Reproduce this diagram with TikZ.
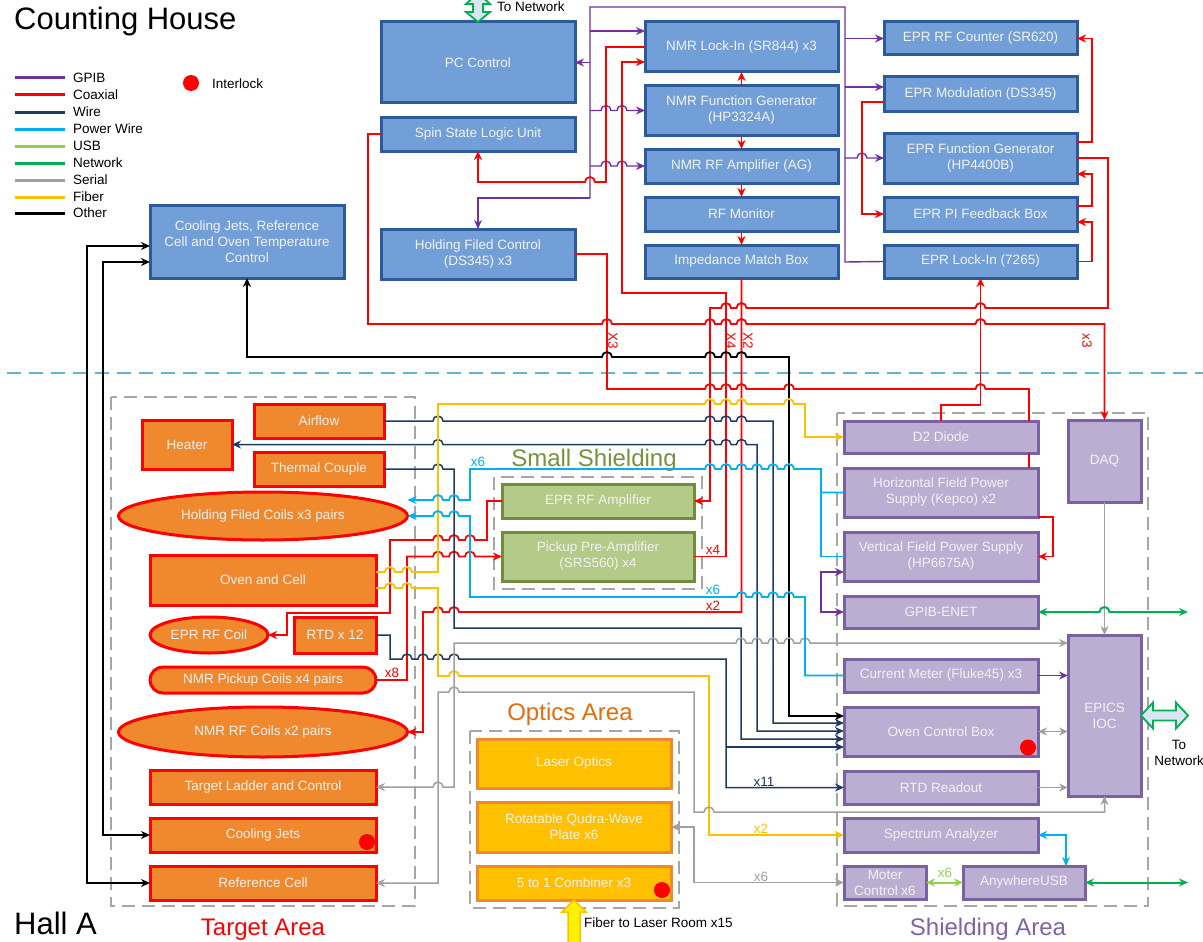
\documentclass[tikz,border=0pt]{standalone}
\usepackage{fontspec}
\setmainfont{Liberation Sans}
\usetikzlibrary{positioning,shapes.geometric,arrows.meta}

\definecolor{gpibc}{RGB}{112,48,160}
\definecolor{coaxc}{RGB}{255,0,0}
\definecolor{wirec}{RGB}{31,56,100}
\definecolor{powerc}{RGB}{0,176,240}
\definecolor{usbc}{RGB}{146,208,80}
\definecolor{netc}{RGB}{0,176,80}
\definecolor{serialc}{RGB}{160,160,160}
\definecolor{fiberc}{RGB}{255,192,0}
\definecolor{bluefill}{RGB}{114,159,216}
\definecolor{blueline}{RGB}{44,90,155}
\definecolor{orangefill}{RGB}{240,136,46}
\definecolor{greenfill}{RGB}{180,202,136}
\definecolor{greenline}{RGB}{112,140,60}
\definecolor{purplefill}{RGB}{188,174,210}
\definecolor{purpleline}{RGB}{122,98,162}
\definecolor{sepline}{RGB}{96,182,212}
\definecolor{areagray}{RGB}{166,166,166}
\definecolor{opticsc}{RGB}{228,108,10}
\definecolor{shieldc}{RGB}{128,100,162}
\definecolor{smallc}{RGB}{118,146,60}
\definecolor{boxtext}{RGB}{242,242,242}
\definecolor{netfill}{RGB}{220,230,242}

% line jumps over crossing verticals, going right / going left
\newcommand{\hopr}[2]{\foreach \hx in {#2} {-- (\hx-5,#1) arc[start angle=180, end angle=360, radius=5]}}
\newcommand{\hopl}[2]{\foreach \hx in {#2} {-- (\hx+5,#1) arc[start angle=0, end angle=-180, radius=5]}}

\begin{document}
\begin{tikzpicture}[x=1pt, y=-1pt, >={Stealth[length=9pt,width=8pt]},
  every node/.style={font=\fontsize{13.5}{16}\selectfont, inner sep=1pt},
  box/.style={draw, line width=3pt, outer sep=0pt, text=boxtext, align=center},
  cbox/.style={box, fill=bluefill, draw=blueline},
  tbox/.style={box, fill=orangefill, draw=coaxc},
  tell/.style={tbox, ellipse},
  sbox/.style={box, fill=greenfill, draw=greenline},
  obox/.style={box, fill=fiberc, draw=orangefill},
  pbox/.style={box, fill=purplefill, draw=purpleline},
  dot/.style={circle, fill=red, minimum size=16pt, inner sep=0pt},
  area/.style={draw=areagray, line width=2pt, dash pattern=on 13pt off 7pt},
  title/.style={font=\fontsize{24}{28}\selectfont, anchor=base},
  gpib/.style={draw=gpibc, line width=1.4pt},
  coax/.style={draw=coaxc, line width=1.8pt},
  wire/.style={draw=wirec, line width=1.5pt},
  power/.style={draw=powerc, line width=1.8pt},
  usb/.style={draw=usbc, line width=2pt},
  net/.style={draw=netc, line width=2pt},
  serial/.style={draw=serialc, line width=1.5pt},
  fiber/.style={draw=fiberc, line width=1.8pt},
  other/.style={draw=black, line width=1.8pt},
  netarrow/.style={draw=netc, fill=netfill, line width=1.8pt}]
\useasboundingbox (0,0) rectangle (1203,942);

% areas
\draw[sepline, line width=2pt, dash pattern=on 14pt off 8pt] (7,373) -- (1203,373);
\draw[area] (111,397) rectangle (415,906);
\draw[area] (494,477) rectangle (702,589);
\draw[area] (470,731) rectangle (679,908);
\draw[area] (837,413) rectangle (1148,906);

\node[font=\fontsize{31}{35}\selectfont, anchor=base west] (house) at (13,30) {Counting House};
\node[font=\fontsize{31}{35}\selectfont, anchor=base west] (hall) at (13,934) {Hall A};
\node[title, text=coaxc] (targett) at (263,935) {Target Area};
\node[title, text=opticsc] (opticst) at (570,720) {Optics Area};
\node[title, text=smallc] (smallt) at (594,466) {Small Shielding};
\node[title, text=shieldc] (shieldt) at (988,935) {Shielding Area};

% legend
\foreach \y/\col/\txt in {78/gpibc/GPIB, 95/coaxc/Coaxial, 112/wirec/Wire,
    129/powerc/Power Wire, 146/usbc/USB, 163/netc/Network, 180/serialc/Serial,
    197/fiberc/Fiber, 213/black/Other} {
  \draw[\col, line width=3pt] (15,\y) -- (65,\y);
  \node[anchor=west] (leg\y) at (72,\y) {\txt};
}
\node[dot] (ildot) at (191,83) {};
\node[anchor=west] (iltext) at (211,84) {Interlock};

% counting house
\node[cbox, minimum width=194, minimum height=81] (pc) at (478,62.5) {PC Control};
\node[cbox, minimum width=194, minimum height=34, below=14pt of pc] (ssl) {Spin State Logic Unit};
\node[cbox, minimum width=194, minimum height=50, below=78pt of ssl] (hfc) {Holding Filed Control\\(DS345) x3};
\node[cbox, minimum width=194, minimum height=73] (cjc) at (247,241.5) {Cooling Jets, Reference\\Cell and Oven Temperature\\Control};
\node[cbox, minimum width=193, minimum height=50] (nli) at (741.5,47) {NMR Lock-In (SR844) x3};
\node[cbox, minimum width=193, minimum height=49, below=14pt of nli] (nfg) {NMR Function Generator\\(HP3324A)};
\node[cbox, minimum width=193, minimum height=34, below=14pt of nfg] (nra) {NMR RF Amplifier (AG)};
\node[cbox, minimum width=193, minimum height=34, below=14pt of nra] (rfm) {RF Monitor};
\node[cbox, minimum width=193, minimum height=33, below=14pt of rfm] (imb) {Impedance Match Box};
\node[cbox, minimum width=193, minimum height=33] (erc) at (980.5,38.5) {EPR RF Counter (SR620)};
\node[cbox, minimum width=193, minimum height=34, below=22pt of erc] (emo) {EPR Modulation (DS345)};
\node[cbox, minimum width=193, minimum height=50, below=22pt of emo] (efg) {EPR Function Generator\\(HP4400B)};
\node[cbox, minimum width=193, minimum height=34, below=14pt of efg] (epi) {EPR PI Feedback Box};
\node[cbox, minimum width=193, minimum height=33, below=14pt of epi] (eli) {EPR Lock-In (7265)};

% target area
\node[tbox, minimum width=130, minimum height=34] (airflow) at (319,421) {Airflow};
\node[tbox, minimum width=90, minimum height=49] (heater) at (187,444.5) {Heater};
\node[tbox, minimum width=130, minimum height=34] (thermal) at (319,469) {Thermal Couple};
\node[tell, minimum width=289, minimum height=48] (hcoils) at (263,516) {Holding Filed Coils x3 pairs};
\node[tbox, minimum width=226, minimum height=50] (oven) at (263,580) {Oven and Cell};
\node[tell, minimum width=118, minimum height=36] (eprcoil) at (209,635) {EPR RF Coil};
\node[tbox, minimum width=82, minimum height=36] (rtd) at (335,635) {RTD x 12};
\node[tbox, rounded corners=13pt, minimum width=226, minimum height=26] (pcoils) at (263,680) {NMR Pickup Coils x4 pairs};
\node[tell, minimum width=289, minimum height=50] (rfcoils) at (263,732) {NMR RF Coils x2 pairs};
\node[tbox, minimum width=226, minimum height=34] (ladder) at (263,787) {Target Ladder and Control};
\node[tbox, minimum width=226, minimum height=34, below=14pt of ladder] (cjets) {Cooling Jets};
\node[tbox, minimum width=226, minimum height=34, below=14pt of cjets] (refcell) {Reference Cell};
\node[dot] (dotcj) at (367,842) {};

% small shielding
\node[sbox, minimum width=192, minimum height=34] (eamp) at (598,501) {EPR RF Amplifier};
\node[sbox, minimum width=192, minimum height=49, below=14pt of eamp] (preamp) {Pickup Pre-Amplifier\\(SRS560) x4};

% optics area
\node[obox, minimum width=194, minimum height=49] (laser) at (574,763.5) {Laser Optics};
\node[obox, minimum width=194, minimum height=50, below=14pt of laser] (qwp) {Rotatable Qudra-Wave\\Plate x6};
\node[obox, minimum width=194, minimum height=34, below=14pt of qwp] (comb) {5 to 1 Combiner x3};
\node[dot] (dotcb) at (662,890) {};

% shielding area
\node[pbox, minimum width=194, minimum height=32] (d2) at (941,437) {D2 Diode};
\node[pbox, minimum width=194, minimum height=49, below=15pt of d2] (hfps) {Horizontal Field Power\\Supply (Kepco) x2};
\node[pbox, minimum width=194, minimum height=49, below=15pt of hfps] (vfps) {Vertical Field Power Supply\\(HP6675A)};
\node[pbox, minimum width=194, minimum height=32, below=15pt of vfps] (genet) {GPIB-ENET};
\node[pbox, minimum width=194, minimum height=33, below=31pt of genet] (cmeter) {Current Meter (Fluke45) x3};
\node[pbox, minimum width=194, minimum height=49, below=15pt of cmeter] (ovenbox) {Oven Control Box};
\node[pbox, minimum width=194, minimum height=33, below=15pt of ovenbox] (rtdro) {RTD Readout};
\node[pbox, minimum width=194, minimum height=34, below=14pt of rtdro] (spec) {Spectrum Analyzer};
\node[pbox, minimum width=82, minimum height=33] (moter) at (885,882.5) {Moter\\Control x6};
\node[pbox, minimum width=122, minimum height=33, right=37pt of moter] (ausb) {AnywhereUSB};
\node[pbox, minimum width=73, minimum height=82] (daq) at (1104.5,461) {DAQ};
\node[pbox, minimum width=73, minimum height=161] (epics) at (1104.5,715.5) {EPICS\\IOC};
\node[dot] (dotob) at (1028,747.5) {};

% GPIB
\draw[gpib] (590,198) -- (590,7) -- (845,7) -- (845,262) -- (eli.west);
\draw[gpib,->] (590,62.5) -- (pc.east);
\draw[gpib,->] (590,31) -- (nli.west |- 0,31);
\draw[gpib,->] (590,110.5) \hopr{110.5}{606,622} -- (nfg.west);
\draw[gpib,->] (590,166) \hopr{166}{606,622} -- (nra.west);
\draw[gpib,->] (590,198) -- (478,198) -- (hfc.north);
\draw[gpib,->] (845,38.5) -- (erc.west);
\draw[gpib,->] (845,87) -- (emo.west |- 0,87);
\draw[gpib,->] (845,158) \hopr{158}{862} -- (efg.west);
\draw[gpib,<->] (vfps.west |- 0,572) -- (821,572) -- (821,612) -- (genet.west);
\draw[gpib,->] (cmeter.east) -- (epics.west |- cmeter.east);

% coaxial
\draw[coax,->] (nfg.north) -- (nli.south);
\draw[coax,->] (nfg.south) -- (nra.north);
\draw[coax,->] (nra.south) -- (rfm.north);
\draw[coax,->] (rfm.south) -- (imb.north);
\draw[coax,->] (nli.west) -- (606,47) -- (606,182) \hopl{182}{590} -- (478,182) -- (ssl.south);
\draw[coax,->] (preamp.east) -- (726,556.5) -- (726,293) -- (622,293) -- (622,62) -- (nli.west |- 0,62);
\draw[coax,->] (ssl.west) -- (368,134) -- (368,324) \hopr{324}{607,710,726,741.5,980.5} -- (1104.5,324) -- (daq.north);
\draw[coax] (hfc.east) -- (607,254) -- (607,389) \hopr{389}{710,726,741.5,789,980.5} -- (1029,389) -- (d2.north -| 1029,0);
\draw[coax] (d2.south -| 1029,0) -- (hfps.north -| 1029,0);
\draw[coax,->] (hfps.south east) -- (1053,517) -- (1053,556.5) -- (vfps.east);
\draw[coax,->] (d2.north) -- (941,405) -- (980.5,405) -- (eli.south);
\draw[coax,->] (emo.west |- 0,102) -- (862,102) -- (862,214) -- (epi.west);
\draw[coax,->] (efg.east |- 0,142) -- (1092,142) -- (1092,38.5) -- (erc.east);
\draw[coax,->] (epi.east |- 0,206) -- (1092,206) -- (1092,174) -- (efg.east |- 0,174);
\draw[coax,->] (eli.east) -- (1092,261.5) -- (1092,222) -- (epi.east |- 0,222);
\draw[coax,->] (efg.east) -- (1108,158) -- (1108,308) \hopl{308}{980.5,741.5,726} -- (710,308) -- (710,501) -- (eamp.east);
\draw[coax,->] (eamp.west) -- (487,501) -- (487,540) \hopl{540}{470,454,438} -- (390,540) -- (390,613) -- (287,613) -- (287,635) -- (eprcoil.east);
\draw[coax,->] (pcoils.east) -- (407,680) -- (407,556.5) \hopr{556.5}{438,454,470} -- (preamp.west);
\draw[coax,->] (imb.south) -- (741.5,612) \hopl{612}{454,438} -- (423,612) -- (423,732) -- (rfcoils.east);

% other
\draw[other,<->] (ovenbox.west |- 0,716) -- (789,716) -- (789,357) \hopl{357}{741.5,726,710,607} -- (247,357) -- (cjc.south);
\draw[other,<->] (cjc.west |- 0,246) -- (87,246) -- (87,883) -- (refcell.west);
\draw[other,<->] (cjc.west |- 0,262) -- (103,262) -- (103,835) -- (cjets.west);

% wire
\draw[wire,->] (airflow.east) \hopr{421}{438,710,726,741.5} -- (773,421) -- (773,723) -- (ovenbox.west |- 0,723);
\draw[wire,<->] (heater.east) \hopr{444.5}{438,710,726,741.5} -- (757,444.5) -- (757,731) -- (ovenbox.west |- 0,731);
\draw[wire,->] (thermal.east) \hopr{469}{438} -- (454,469) -- (454,628) -- (741,628) -- (741,739) -- (ovenbox.west |- 0,739);
\draw[wire,->] (rtd.east) -- (390,635) -- (390,659) \hopr{659}{407,423,438,454} -- (726,659) -- (726,787.5) -- (rtdro.west);
\draw[wire,->] (726,747) -- (ovenbox.west |- 0,747);

% fiber
\draw[fiber,->] (oven.east |- 0,572) \hopr{572}{390,407} -- (438,572) -- (438,404) \hopr{404}{710,726,741.5,789} -- (805,404) -- (805,437) -- (d2.west);
\draw[fiber,->] (oven.east |- 0,588) \hopr{588}{390,407} -- (438,588) -- (438,676) \hopr{676}{454} -- (709,676) -- (709,835) -- (spec.west);

% serial
\draw[serial,->] (daq.south) -- (epics.north);
\draw[serial,<->] (ovenbox.east) -- (epics.west |- ovenbox.east);
\draw[serial,->] (rtdro.east) -- (epics.west |- rtdro.east);
\draw[serial,<->] (ladder.east) \hopr{787}{438} -- (454,787) -- (454,643) \hopr{643}{741,757,773,789,805} -- (epics.west |- 0,643);
\draw[serial,<->] (refcell.east) -- (438,883) -- (438,692) \hopr{692}{454} -- (694,692) -- (694,812) \hopr{812}{709} -- (1104.5,812) -- (epics.south);
\draw[serial,<->] (qwp.east) -- (694,827) -- (694,882.5) -- (moter.west);

% power wire
\draw[power,->] (hfps.west) -- (821,492.5) -- (821,469) \hopl{469}{789,773,757,741.5,726,710} -- (470,469) -- (470,500) \hopl{500}{454,438} -- (hcoils.east |- 0,500);
\draw[power] (vfps.west) -- (821,556.5) -- (821,492.5);
\draw[power,->] (cmeter.west) -- (805,675.5) -- (805,597) \hopl{597}{789,773,757,741.5} -- (470,597) -- (470,516) \hopl{516}{454,438} -- (hcoils.east);
\draw[power,<->] (spec.east) -- (1066,835) -- (ausb.north -| 1066,0);

% usb and network
\coordinate (neta) at (1188,612);
\coordinate (netb) at (1188,882.5);
\draw[usb,<->] (moter.east) -- (ausb.west);
\draw[net,<->] (genet.east) \hopr{612}{1104.5} -- (neta);
\draw[net,<->] (ausb.east) -- (netb);
\draw[netarrow] (epics.east) -- ++(12,-13) -- ++(0,8) -- ++(23,0) -- ++(0,-8) -- ++(12,13)
  -- ++(-12,13) -- ++(0,-8) -- ++(-23,0) -- ++(0,8) -- cycle;
\draw[netarrow] (pc.north) -- ++(-12,-10) -- ++(7,0) -- ++(0,-8) -- ++(-7,0) -- ++(12,-11)
  -- ++(12,11) -- ++(-7,0) -- ++(0,8) -- ++(7,0) -- cycle;
\draw[draw=fiberc, fill=yellow, line width=1.5pt] (comb.south) -- ++(12,12) -- ++(-6,0) -- ++(0,32)
  -- ++(-12,0) -- ++(0,-32) -- ++(-6,0) -- cycle;

% labels
\node[anchor=base west] (pcnet) at (496,12) {To Network};
\node[align=center] (epnet) at (1179,753) {To\\Network};
\node[anchor=west] (fibert) at (583,923) {Fiber to Laser Room x15};
\node[text=powerc] (lx6a) at (478,462) {x6};
\node[text=powerc] (lx6b) at (713,590) {x6};
\node[text=coaxc] (lx2a) at (713,606) {x2};
\node[text=coaxc] (lx4a) at (713,550) {x4};
\node[text=coaxc] (lx8) at (392,673) {x8};
\node[text=coaxc, rotate=-90] (lx3a) at (613,341) {X3};
\node[text=coaxc, rotate=-90] (lx4b) at (731,341) {X4};
\node[text=coaxc, rotate=-90] (lx2b) at (748,341) {X2};
\node[text=coaxc, rotate=-90] (lx3b) at (1087,341) {x3};
\node[text=wirec] (lx11) at (764,782) {x11};
\node[text=fiberc] (lx2c) at (761,829) {x2};
\node[text=serialc] (lx6c) at (761,877) {x6};
\node[text=usbc] (lx6d) at (945,873) {x6};
\end{tikzpicture}
\end{document}
